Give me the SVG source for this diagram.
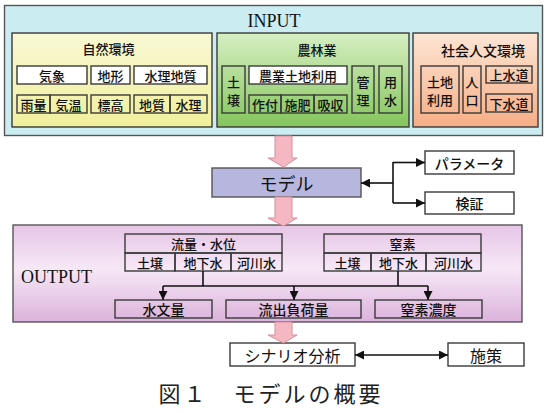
<svg xmlns="http://www.w3.org/2000/svg" width="550" height="413" viewBox="0 0 550 413">
<defs>
<linearGradient id="gY" x1="0" y1="0" x2="0" y2="1"><stop offset="0" stop-color="#f8f8d4"/><stop offset="1" stop-color="#f2ef9c"/></linearGradient>
<linearGradient id="gG" x1="0" y1="0" x2="0" y2="1"><stop offset="0" stop-color="#d6efc2"/><stop offset="1" stop-color="#84c55c"/></linearGradient>
<linearGradient id="gO" x1="0" y1="0" x2="0" y2="1"><stop offset="0" stop-color="#fde5d4"/><stop offset="1" stop-color="#f6ae86"/></linearGradient>
<linearGradient id="gP" x1="0" y1="0" x2="0" y2="1"><stop offset="0" stop-color="#e6c4e6"/><stop offset="0.45" stop-color="#f6e8f6"/><stop offset="1" stop-color="#dcb2dc"/></linearGradient>
<marker id="ah" viewBox="0 0 10 10" refX="10" refY="5" markerWidth="9" markerHeight="9" markerUnits="userSpaceOnUse" orient="auto-start-reverse"><path d="M0,0 L10,5 L0,10 z" fill="#111"/></marker>
<style>
.box{stroke:#3a3a3a;stroke-width:1.4}
.w{fill:#fff}
.t{fill:none}
text{font-family:"Noto Sans CJK JP","Noto Sans",sans-serif;fill:#111;text-anchor:middle;dominant-baseline:central}
.s13{font-size:13px;font-weight:500}
.s14{font-size:14px;font-weight:500}
.s16{font-size:16px}
.serif{font-family:"Liberation Serif",serif;font-size:18px;font-weight:400}
.blk{fill:#f5b8c2;stroke:#d88e9c;stroke-width:1}
.ln{fill:none;stroke:#111;stroke-width:1.6}
</style>
</defs>

<g id="input">
<rect x="4.5" y="5.5" width="538" height="130" fill="#cbedf2" stroke="#555" stroke-width="1.4"/>
<text class="serif" x="274" y="27" style="dominant-baseline:auto">INPUT</text>
</g>

<g id="shizen">
<rect class="box" x="12" y="33" width="200" height="94" fill="url(#gY)"/>
<text class="s13" x="108.5" y="48.5">自然環境</text>
<rect class="box w" x="17" y="66" width="70" height="18"/><text class="s13" x="52" y="75">気象</text>
<rect class="box w" x="91" y="66" width="39" height="18"/><text class="s13" x="110.5" y="75">地形</text>
<rect class="box w" x="134" y="66" width="73" height="18"/><text class="s13" x="170.5" y="75">水理地質</text>
<rect class="box t" x="17" y="95" width="33" height="18"/><text class="s13" x="33.5" y="104">雨量</text>
<rect class="box t" x="50" y="95" width="37" height="18"/><text class="s13" x="68.5" y="104">気温</text>
<rect class="box t" x="91" y="95" width="39" height="18"/><text class="s13" x="110.5" y="104">標高</text>
<rect class="box t" x="134" y="95" width="36" height="18"/><text class="s13" x="152" y="104">地質</text>
<rect class="box t" x="170" y="95" width="37" height="18"/><text class="s13" x="188.5" y="104">水理</text>
</g>

<g id="norin">
<rect class="box" x="217" y="33" width="192" height="94" fill="url(#gG)"/>
<text class="s13" x="317" y="49.5">農林業</text>
<rect class="box t" x="222" y="66" width="23" height="47"/><text class="s13" x="233.5" y="81">土</text><text class="s13" x="233.5" y="99">壌</text>
<rect class="box w" x="249" y="66" width="98" height="18"/><text class="s13" x="298" y="75">農業土地利用</text>
<rect class="box t" x="249" y="95" width="32" height="18"/><text class="s13" x="265" y="104">作付</text>
<rect class="box t" x="281" y="95" width="33" height="18"/><text class="s13" x="297.5" y="104">施肥</text>
<rect class="box t" x="314" y="95" width="33" height="18"/><text class="s13" x="330.5" y="104">吸収</text>
<rect class="box t" x="352" y="66" width="22" height="47"/><text class="s13" x="363" y="81">管</text><text class="s13" x="363" y="99">理</text>
<rect class="box t" x="379" y="66" width="23" height="47"/><text class="s13" x="390.5" y="81">用</text><text class="s13" x="390.5" y="99">水</text>
</g>

<g id="shakai">
<rect class="box" x="413" y="33" width="125" height="94" fill="url(#gO)"/>
<text class="s14" x="483" y="49.5">社会人文環境</text>
<rect class="box t" x="421" y="66" width="38" height="47"/><text class="s13" x="440" y="81">土地</text><text class="s13" x="440" y="99">利用</text>
<rect class="box t" x="463" y="66" width="18" height="47"/><text class="s13" x="472" y="81">人</text><text class="s13" x="472" y="99">口</text>
<rect class="box t" x="486" y="66" width="46" height="17"/><text class="s13" x="509" y="74.5">上水道</text>
<rect class="box t" x="486" y="94" width="46" height="18"/><text class="s13" x="509" y="103">下水道</text>
</g>

<g id="model">
<rect x="212" y="168" width="149" height="29" fill="#b6b6de" stroke="#555" stroke-width="1.4"/>
<text style="font-size:18px" x="286.5" y="182.5">モデル</text>
</g>

<g id="param">
<rect class="box w" x="425" y="151" width="89" height="23"/>
<text class="s14" x="469.5" y="162.5">パラメータ</text>
</g>
<g id="kensho">
<rect class="box w" x="425" y="192" width="89" height="22"/>
<text class="s14" x="469.5" y="203">検証</text>
</g>

<g id="output">
<rect x="13" y="225" width="509" height="97" fill="url(#gP)" stroke="#555" stroke-width="1.4"/>
<text class="serif" x="56.5" y="283" style="dominant-baseline:auto">OUTPUT</text>
</g>

<g id="ryuryo">
<rect class="box t" x="125" y="234" width="157" height="19"/>
<text class="s13" x="203.5" y="243.5">流量・水位</text>
<rect class="box t" x="125" y="253" width="50" height="18"/><text class="s13" x="150" y="262">土壌</text>
<rect class="box t" x="175" y="253" width="56" height="18"/><text class="s13" x="203" y="262">地下水</text>
<rect class="box t" x="231" y="253" width="51" height="18"/><text class="s13" x="256.5" y="262">河川水</text>
</g>

<g id="chisso">
<rect class="box t" x="324" y="234" width="157" height="19"/>
<text class="s13" x="402.5" y="243.5">窒素</text>
<rect class="box t" x="324" y="253" width="47" height="18"/><text class="s13" x="347.5" y="262">土壌</text>
<rect class="box t" x="371" y="253" width="55" height="18"/><text class="s13" x="398.5" y="262">地下水</text>
<rect class="box t" x="426" y="253" width="55" height="18"/><text class="s13" x="453.5" y="262">河川水</text>
</g>

<g id="suibunryo">
<rect class="box t" x="115" y="300" width="97" height="18"/><text class="s14" x="163.5" y="309">水文量</text>
</g>
<g id="fuka">
<rect class="box t" x="226" y="300" width="135" height="18"/><text class="s14" x="293.5" y="309">流出負荷量</text>
</g>
<g id="noudo">
<rect class="box t" x="375" y="300" width="107" height="18"/><text class="s14" x="428.5" y="309">窒素濃度</text>
</g>

<g id="scenario">
<rect class="box w" x="230" y="343" width="125" height="23"/>
<text class="s16" x="292.5" y="354.5">シナリオ分析</text>
</g>
<g id="shisaku">
<rect class="box w" x="448" y="343" width="76" height="23"/>
<text class="s16" x="486" y="354.5">施策</text>
</g>

<g id="connectors">
<path class="blk" d="M275,136 H292 V158 H297 L283.5,167 L268,158 H275 Z"/>
<path class="blk" d="M275,197 H292 V218 H297 L283.5,226 L268,218 H275 Z"/>
<path class="blk" d="M275,322 H292 V335 H297 L283.5,343 L268,335 H275 Z"/>
<path class="ln" d="M393,183 H361" marker-end="url(#ah)"/>
<path class="ln" d="M393,162 V203"/>
<path class="ln" d="M393,162.5 H425" marker-end="url(#ah)"/>
<path class="ln" d="M393,203 H425" marker-end="url(#ah)"/>
<path class="ln" d="M203,271 V286"/>
<path class="ln" d="M398,271 V286"/>
<path class="ln" d="M163,286 H428"/>
<path class="ln" d="M163,286 V300" marker-end="url(#ah)"/>
<path class="ln" d="M294,286 V300" marker-end="url(#ah)"/>
<path class="ln" d="M428,286 V300" marker-end="url(#ah)"/>
<path class="ln" d="M355,355 H448" marker-start="url(#ah)" marker-end="url(#ah)"/>
</g>

<text id="caption" x="271" y="392" style="font-size:22px;letter-spacing:3px;fill:#222">図１　モデルの概要</text>
</svg>
